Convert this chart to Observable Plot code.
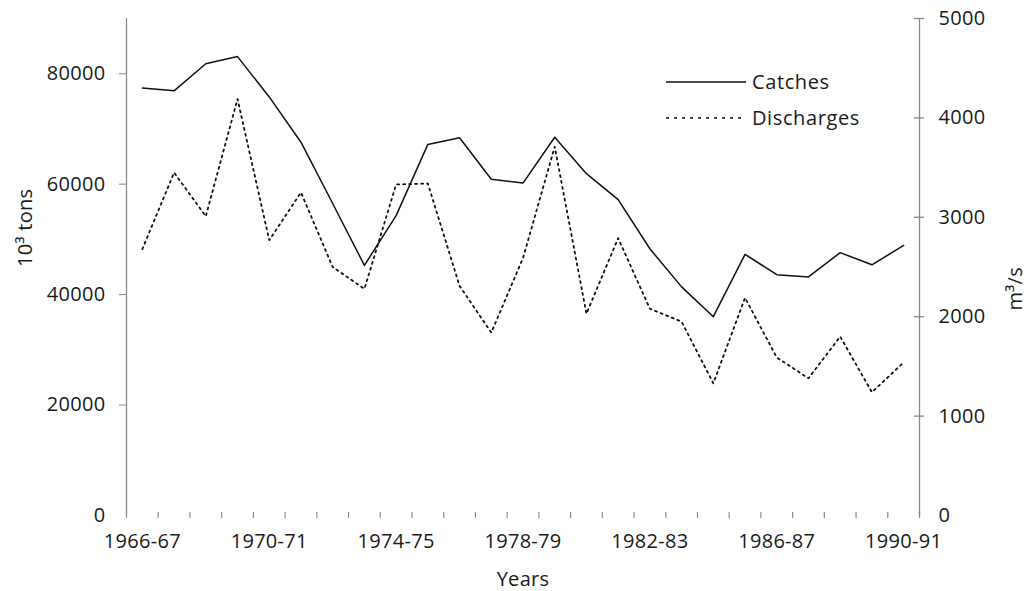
<!DOCTYPE html>
<html>
<head>
<meta charset="utf-8">
<script src="https://cdn.jsdelivr.net/npm/d3@7"></script>
<script src="https://cdn.jsdelivr.net/npm/@observablehq/plot@0.6"></script>
<style>
  html, body { margin: 0; padding: 0; background: #fff; }
  #wrap { position: relative; width: 1027px; height: 591px; }
  #wrap svg text { letter-spacing: 0.3px; }
  #legend { position: absolute; left: 0; top: 0; pointer-events: none; }
</style>
</head>
<body>
<div id="wrap"></div>
<script>
// Seasons (categories)
const periods = ["1966-67","1967-68","1968-69","1969-70","1970-71","1971-72","1972-73","1973-74","1974-75","1975-76","1976-77","1977-78","1978-79","1979-80","1980-81","1981-82","1982-83","1983-84","1984-85","1985-86","1986-87","1987-88","1988-89","1989-90","1990-91"];
// Catches, 10^3 tons (left axis)
const catches = [77400, 76900, 81800, 83100, 75800, 67600, 56500, 45300, 54300, 67200, 68400, 60900, 60200, 68500, 61900, 57200, 48300, 41400, 36000, 47300, 43600, 43200, 47600, 45400, 48900];
// Discharges, m^3/s (right axis)
const discharges = [2680, 3450, 3010, 4190, 2770, 3250, 2500, 2280, 3330, 3340, 2310, 1840, 2590, 3710, 2030, 2790, 2080, 1950, 1330, 2190, 1590, 1380, 1800, 1240, 1540];
// Axis ticks
const leftTicks = [0, 20000, 40000, 60000, 80000];
const rightTicks = [0, 1000, 2000, 3000, 4000, 5000];
const labelEvery = 4;
const leftMax = 90000, rightMax = 5000;

const k = leftMax / rightMax; // right-axis values mapped onto the left scale
const rows = periods.map((p, i) => ({i, p, catches: catches[i], discharges: discharges[i]}));
const n = periods.length;
const gray = "#8a8a8a";
const ink = "#1a1a1a";

const chart = Plot.plot({
  width: 1027,
  height: 591,
  marginLeft: 126,
  marginRight: 108,
  marginTop: 18,
  marginBottom: 76,
  style: {fontFamily: "'Open Sans', sans-serif", fontSize: "20px", color: ink, background: "#fff"},
  x: {domain: [-0.5, n - 0.5]},
  y: {domain: [0, leftMax]},
  marks: [
    // axis lines (left & right)
    Plot.ruleX([-0.5, n - 0.5], {y1: 0, y2: leftMax, stroke: gray, strokeWidth: 1.3}),
    // x tick marks at category boundaries
    Plot.ruleX(d3.range(n + 1).map(b => b - 0.5), {y1: 0, y2: 0, insetTop: -3, insetBottom: -3, stroke: gray, strokeWidth: 1.2}),
    // right axis tick marks (crossing)
    Plot.ruleY(rightTicks.filter(d => d > 0), {y: d => d * k, x1: n - 0.5, x2: n - 0.5, insetLeft: -5, insetRight: -5, stroke: gray, strokeWidth: 1.3}),
    // left axis
    Plot.axisY(leftTicks.filter(d => d > 0), {anchor: "left", tickSize: 7, tickPadding: 14, tickFormat: d => String(d), label: null, stroke: gray, fill: ink}),
    Plot.axisY([0], {anchor: "left", tickSize: 0, tickPadding: 21, tickFormat: d => String(d), label: null, fill: ink}),
    // right axis labels
    Plot.axisY(rightTicks.map(d => d * k), {anchor: "right", tickSize: 0, tickPadding: 19, tickFormat: d => String(Math.round(d / k)), label: null, fill: ink}),
    // x labels
    Plot.axisX(d3.range(0, n, labelEvery), {anchor: "bottom", tickSize: 0, tickPadding: 18, tickFormat: i => periods[i], label: null, fill: ink}),
    // axis titles
    Plot.text(["10³ tons"], {text: d => d, frameAnchor: "left", dx: -101, rotate: -90, fill: ink}),
    Plot.text(["m³/s"], {text: d => d, frameAnchor: "right", dx: 96, rotate: -90, fill: ink}),
    Plot.text(["Years"], {text: d => d, frameAnchor: "bottom", dy: 70, fill: ink}),
    // series
    Plot.line(rows, {x: "i", y: "catches", stroke: "#111", strokeWidth: 1.5}),
    Plot.line(rows, {x: "i", y: d => d.discharges * k, stroke: "#111", strokeWidth: 1.8, strokeDasharray: "2,4"})
  ]
});
const wrap = document.getElementById("wrap");
wrap.appendChild(chart);

// In-plot legend overlay
const lg = d3.select(wrap).append("svg")
  .attr("id", "legend").attr("width", 1027).attr("height", 591)
  .style("font-family", "'Open Sans', sans-serif").style("font-size", "20px");
const items = [{name: "Catches", dash: null}, {name: "Discharges", dash: "3,5"}];
items.forEach((it, j) => {
  const yy = 82 + j * 36;
  lg.append("line").attr("x1", 666).attr("x2", 746).attr("y1", yy).attr("y2", yy)
    .attr("stroke", "#111").attr("stroke-width", 1.4)
    .attr("stroke-dasharray", it.dash);
  lg.append("text").attr("x", 752).attr("y", yy).attr("dy", "0.35em")
    .attr("fill", ink).style("letter-spacing", "0.6px").text(it.name);
});
</script>
</body>
</html>
